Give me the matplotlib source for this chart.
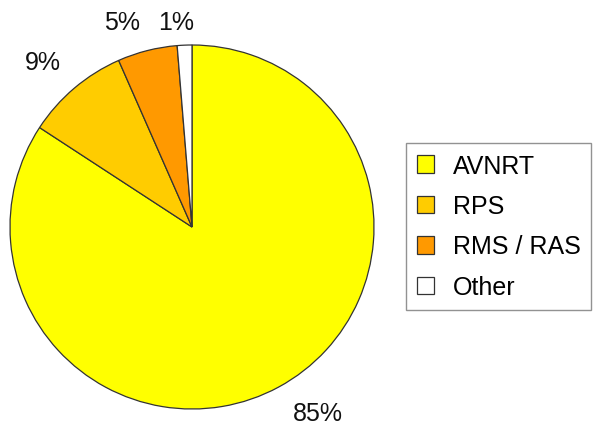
import matplotlib.pyplot as plt

categories = ["AVNRT", "RPS", "RMS / RAS", "Other"]
shares = [84.2, 9.2, 5.3, 1.3]
pct_labels = ["85%", "9%", "5%", "1%"]
colors = ["#FFFF00", "#FFCC00", "#FF9900", "#FFFFFF"]

plt.rcParams["font.family"] = ["Liberation Sans", "DejaVu Sans"]

fig = plt.figure(figsize=(6.02, 4.31), dpi=100)
ax = fig.add_axes([10 / 602, 21 / 431, 364 / 602, 364 / 431])

wedges, texts = ax.pie(
    shares,
    colors=colors,
    labels=pct_labels,
    startangle=90,
    counterclock=False,
    labeldistance=1.16,
    wedgeprops=dict(edgecolor="#333333", linewidth=0.9),
    textprops=dict(fontsize=18, color="#111111"),
)
ax.set_xlim(-1, 1)
ax.set_ylim(-1, 1)

# small nudges so the labels sit where they do in the original
nudges = {1: (0.03, 0.02), 3: (0.06, -0.03)}
for i, (dx, dy) in nudges.items():
    x, y = texts[i].get_position()
    texts[i].set_position((x + dx, y + dy))

leg = fig.legend(
    wedges, categories,
    loc="upper left",
    bbox_to_anchor=(406 / 602, 1 - 144 / 431),
    borderaxespad=0,
    fontsize=18,
    frameon=True,
    fancybox=False,
    edgecolor="#777777",
    handlelength=0.7,
    handleheight=0.7,
    handletextpad=0.75,
    labelspacing=0.66,
    borderpad=0.42,
)
leg.get_frame().set_linewidth(1.0)
for h in leg.legend_handles:
    h.set_edgecolor("#333333")
    h.set_linewidth(0.9)

plt.savefig("out.png", dpi=100)
